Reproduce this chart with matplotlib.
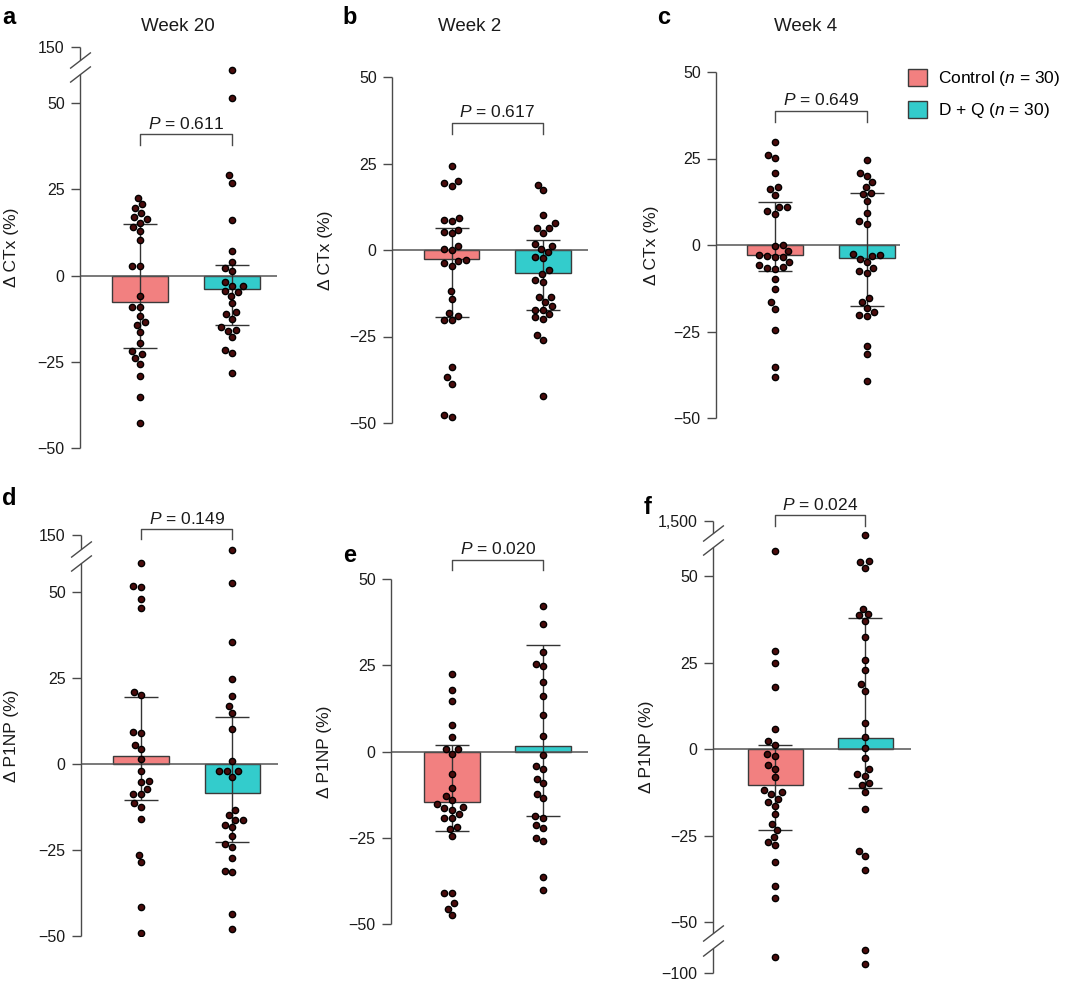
import numpy as np
import pandas as pd
import matplotlib
matplotlib.use('Agg')
import matplotlib.pyplot as plt
import seaborn as sns
from matplotlib.patches import Patch

plt.rcParams['font.family'] = ['Liberation Sans', 'DejaVu Sans']
plt.rcParams['mathtext.fontset'] = 'custom'
plt.rcParams['mathtext.it'] = 'Liberation Sans:italic'
plt.rcParams['mathtext.rm'] = 'Liberation Sans'

W, H = 1080, 984
groups = ['Control', 'D + Q']
bar_colors = ['#f28080', '#33cccc']
dot_face = '#4a0c0c'
line_c = '#4a4a4a'

# ---- data (values in %) ----
# a: CTx, week 20
ctrl_a = [22.6, 20.7, 19.6, 18.2, 16.9, 16.3, 15.3, 14.1, 12.8, 10.4, 2.7, 2.7,
          -6.0, -9.1, -9.1, -11.6, -13.6, -14.3, -16.4, -19.5, -21.8, -22.7,
          -23.9, -25.6, -29.2, -35.3, -42.7]
dq_a = [72.6, 51.4, 29.1, 27.0, 16.2, 7.0, 3.9, 2.2, 1.2, -2.0, -3.0, -3.0, -4.4,
        -4.8, -5.8, -8.0, -10.7, -11.1, -12.6, -14.9, -15.7, -16.0, -17.9, -21.5,
        -22.4, -28.2]
# b: CTx, week 2
ctrl_b = [24.4, 19.8, 19.3, 18.6, 9.3, 8.6, 8.4, 5.9, 5.3, 4.8, 1.1, 0.4, -0.1,
          -2.9, -3.2, -3.9, -4.5, -11.9, -14.1, -18.2, -19.2, -20.3, -20.3, -33.8,
          -36.8, -38.7, -47.6, -48.4]
dq_b = [18.8, 17.2, 10.0, 7.9, 6.5, 6.4, 4.9, 1.6, 1.3, 0.3, -0.7, -1.9, -2.4,
        -5.8, -7.0, -8.6, -9.2, -13.7, -13.7, -15.1, -16.3, -17.2, -17.2, -18.4,
        -19.5, -19.8, -24.5, -25.9, -42.3]
# c: CTx, week 4
ctrl_c = [29.8, 26.1, 25.1, 20.9, 16.9, 16.3, 14.5, 10.9, 10.9, 9.8, 9.0, 0.1,
          -0.4, -1.7, -3.0, -3.2, -3.5, -3.5, -5.0, -5.9, -6.4, -6.7, -6.8, -9.9,
          -12.8, -16.6, -18.5, -24.7, -35.2, -38.2]
dq_c = [24.7, 20.9, 20.0, 18.2, 16.7, 15.1, 14.6, 12.6, 9.2, 6.8, 6.0, -2.7, -2.9,
        -3.2, -4.0, -4.9, -6.6, -7.5, -8.0, -15.4, -16.5, -18.3, -19.5, -20.2,
        -20.6, -29.1, -31.4, -39.2]
# d: P1NP, week 20
ctrl_d = [58.5, 51.7, 51.4, 48.1, 45.4, 20.9, 20.0, 9.3, 8.9, 5.6, 4.3, 1.5, -2.0,
          -5.0, -5.2, -7.2, -8.7, -8.7, -11.2, -12.4, -15.9, -26.4, -28.5, -41.5,
          -49.1]
dq_d = [100.3, 52.6, 35.6, 24.6, 19.7, 16.9, 14.9, 10.3, 1.0, -2.1, -2.1, -2.1,
        -3.7, -13.5, -14.9, -16.2, -16.2, -17.6, -18.3, -21.0, -23.3, -24.2, -27.4,
        -31.0, -31.4, -43.5, -48.0]
# e: P1NP, week 2
ctrl_e = [22.5, 17.9, 14.5, 7.8, 4.2, 0.7, 0.7, -0.7, -6.6, -10.6, -12.8, -14.1,
          -15.3, -16.2, -16.3, -16.9, -18.1, -19.2, -19.3, -21.8, -22.5, -24.6,
          -41.0, -41.1, -44.0, -45.6, -47.5]
dq_e = [42.1, 37.0, 28.8, 25.4, 24.7, 20.1, 16.0, 10.6, 4.5, -0.9, -4.3, -5.1,
        -8.0, -9.2, -12.4, -13.6, -18.8, -19.3, -21.3, -22.1, -25.1, -25.9, -36.3,
        -40.0]
# f: P1NP, week 4
ctrl_f = [57.3, 28.3, 24.8, 17.9, 5.9, 2.2, 1.3, -1.5, -2.0, -4.7, -5.7, -8.1,
          -11.8, -12.5, -13.1, -14.3, -15.2, -16.4, -18.9, -21.6, -23.4, -25.5,
          -26.9, -27.7, -32.7, -39.5, -43.0, -81.7]
dq_f = [740.0, 54.3, 54.0, 52.4, 40.6, 39.1, 38.6, 37.1, 32.3, 25.8, 22.9, 18.7,
        16.8, 7.6, 3.6, 0.4, -2.6, -5.8, -7.3, -7.7, -9.7, -10.3, -12.3, -17.2,
        -29.5, -30.8, -34.9, -72.7, -89.0]

# bar heights and error-bar ends [Control, D + Q]
bar_a, lo_a, hi_a = [-7.7, -3.85], [-21.0, -14.2], [14.9, 3.2]
bar_b, lo_b, hi_b = [-2.7, -6.6], [-19.3, -17.2], [6.5, 2.9]
bar_c, lo_c, hi_c = [-2.8, -3.7], [-7.5, -17.5], [12.3, 15.0]
bar_d, lo_d, hi_d = [2.2, -8.4], [-10.6, -22.8], [19.5, 13.7]
bar_e, lo_e, hi_e = [-14.6, 1.65], [-22.9, -18.8], [1.9, 30.9]
bar_f, lo_f, hi_f = [-10.5, 3.3], [-23.5, -11.2], [1.1, 37.9]

p_values = ['0.611', '0.617', '0.649', '0.149', '0.020', '0.024']
titles = ['Week 20', 'Week 2', 'Week 4', '', '', '']
ctx_label = 'Δ CTx (%)'
p1np_label = 'Δ P1NP (%)'


def broken_scale(hi_b=None, hi_k=1.0, lo_b=None, lo_k=1.0):
    def fwd(y):
        y = np.asarray(y, dtype=float)
        d = y.copy()
        if hi_b is not None:
            d = np.where(y > hi_b, hi_b + (y - hi_b) * hi_k, d)
        if lo_b is not None:
            d = np.where(y < lo_b, lo_b + (y - lo_b) * lo_k, d)
        return d

    def inv(d):
        d = np.asarray(d, dtype=float)
        y = d.copy()
        if hi_b is not None:
            y = np.where(d > hi_b, hi_b + (d - hi_b) / hi_k, y)
        if lo_b is not None:
            y = np.where(d < lo_b, lo_b + (d - lo_b) / lo_k, y)
        return y
    return fwd, inv


HB = 58.5   # upper break start
LB = -53.2  # lower break start

panels = [
    dict(key='a', ctrl=ctrl_a, dq=dq_a, bar=bar_a, lo=lo_a, hi=hi_a, ylabel=ctx_label,
         box=(80, 47, 277, 448), xlim=(-0.652, 1.489), ylim=(-50, 150),
         ticks=[-50, -25, 0, 25, 50, 150], top_disp=66.3, bot_disp=None,
         bracket=(41.0, 37.9), lab_dx=-61, key_xy=(2, 24), title_xy=(178, 31)),
    dict(key='b', ctrl=ctrl_b, dq=dq_b, bar=bar_b, lo=lo_b, hi=hi_b, ylabel=ctx_label,
         box=(392, 77, 588, 423), xlim=(-0.65, 1.49), ylim=(-50, 50),
         ticks=[-50, -25, 0, 25, 50], top_disp=None, bot_disp=None,
         bracket=(36.7, 33.6), lab_dx=-59, key_xy=(342, 24), title_xy=(470, 31)),
    dict(key='c', ctrl=ctrl_c, dq=dq_c, bar=bar_c, lo=lo_c, hi=hi_c, ylabel=ctx_label,
         box=(716, 72, 900, 418), xlim=(-0.64, 1.36), ylim=(-50, 50),
         ticks=[-50, -25, 0, 25, 50], top_disp=None, bot_disp=None,
         bracket=(38.8, 35.6), lab_dx=-57, key_xy=(657, 24), title_xy=(806, 31)),
    dict(key='d', ctrl=ctrl_d, dq=dq_d, bar=bar_d, lo=lo_d, hi=hi_d, ylabel=p1np_label,
         box=(81, 535, 278, 936), xlim=(-0.66, 1.5), ylim=(-50, 150),
         ticks=[-50, -25, 0, 25, 50, 150], top_disp=66.6, bot_disp=None,
         bracket=(68.3, 65.4), lab_dx=-62, key_xy=(2, 505), title_xy=None),
    dict(key='e', ctrl=ctrl_e, dq=dq_e, bar=bar_e, lo=lo_e, hi=hi_e, ylabel=p1np_label,
         box=(391, 579, 588, 924), xlim=(-0.67, 1.49), ylim=(-50, 50),
         ticks=[-50, -25, 0, 25, 50], top_disp=None, bot_disp=None,
         bracket=(55.6, 52.5), lab_dx=-59, key_xy=(343, 562), title_xy=None),
    dict(key='f', ctrl=ctrl_f, dq=dq_f, bar=bar_f, lo=lo_f, hi=hi_f, ylabel=p1np_label,
         box=(713, 521, 911, 973), xlim=(-0.69, 1.51), ylim=(-100, 1500),
         ticks=[-100, -50, -25, 0, 25, 50, 1500], top_disp=65.9, bot_disp=-64.7,
         bracket=(67.6, 64.4), lab_dx=-59, key_xy=(644, 514), title_xy=None),
]


def tick_text(v):
    s = f'{abs(v):,}'
    return ('\u2212' + s) if v < 0 else s


fig = plt.figure(figsize=(W / 100, H / 100), dpi=100)

for i, p in enumerate(panels):
    l, t, r, b = p['box']
    ax = fig.add_axes([l / W, 1 - b / H, (r - l) / W, (b - t) / H])
    y0, y1 = p['ylim']
    hb = lb = None
    hk = lk = 1.0
    if p['top_disp'] is not None:
        hb = HB
        hk = (p['top_disp'] - HB) / (y1 - HB)
    if p['bot_disp'] is not None:
        lb = LB
        lk = (LB - p['bot_disp']) / (LB - y0)
    fwd, inv = broken_scale(hb, hk, lb, lk)
    ax.set_yscale('function', functions=(fwd, inv))
    ax.set_ylim(y0, y1)

    xs = np.arange(2)
    ax.bar(xs, p['bar'], width=0.61, color=bar_colors, edgecolor='#3a3a3a',
           linewidth=1.0, zorder=2)
    ax.axhline(0, color='#555555', lw=1.1, zorder=2.5)
    mean = np.array(p['bar'])
    yerr = [mean - np.array(p['lo']), np.array(p['hi']) - mean]
    ax.errorbar(xs, mean, yerr=yerr, fmt='none', ecolor='#333333', elinewidth=1.0,
                capsize=11.9, capthick=1.0, zorder=3)

    df = pd.DataFrame({'group': [groups[0]] * len(p['ctrl']) + [groups[1]] * len(p['dq']),
                       'value': p['ctrl'] + p['dq']})
    sns.swarmplot(data=df, x='group', y='value', order=groups, ax=ax, size=4.5,
                  color=dot_face, edgecolor='black', linewidth=1.0, zorder=5)

    ax.set_xlim(*p['xlim'])
    ax.set_xticks([])
    ax.set_xlabel('')
    for s in ['top', 'right', 'bottom', 'left']:
        ax.spines[s].set_visible(False)

    ax.set_yticks(p['ticks'], [tick_text(v) for v in p['ticks']])
    ax.tick_params(axis='y', length=6.5, width=1.0, color=line_c, labelsize=11.5,
                   pad=4.5, labelcolor='#1a1a1a')
    ax.set_ylabel(p['ylabel'], fontsize=12.5, color='#1a1a1a')
    ax.yaxis.set_label_coords(p['lab_dx'] / (r - l), 0.5)

    # left axis line, with break marks
    ytr = ax.get_yaxis_transform()
    slashes = []
    if lb is not None:
        slashes += [float(inv(-57.4)), float(inv(-53.2))]
    if hb is not None:
        slashes += [float(inv(58.4)), float(inv(62.4))]
    segs = [y0] + slashes + [y1]
    for k in range(0, len(segs), 2):
        ax.plot([0, 0], [segs[k], segs[k + 1]], transform=ytr, color=line_c, lw=1.0,
                clip_on=False, solid_capstyle='butt', zorder=6)
    if slashes:
        ax.plot([0] * len(slashes), slashes, transform=ytr, ls='none',
                marker=[(-1, -0.77), (1, 0.77)], ms=15, mew=1.0, color=line_c,
                clip_on=False, zorder=6)

    # significance bracket
    top, leg = p['bracket']
    top_d, leg_d = float(inv(top)), float(inv(leg))
    ax.plot([0, 0, 1, 1], [leg_d, top_d, top_d, leg_d], color=line_c, lw=1.0,
            clip_on=False, zorder=6)
    ax.annotate(f'$P$ = {p_values[i]}', xy=(0.5, top_d), xytext=(0, 4),
                textcoords='offset points', ha='center', va='baseline',
                fontsize=12.5, color='#1a1a1a', annotation_clip=False)

    kx, ky = p['key_xy']
    fig.text(kx / W, 1 - ky / H, p['key'], fontsize=17, fontweight='bold',
             ha='left', va='baseline')
    if p['title_xy'] is not None:
        tx, ty = p['title_xy']
        fig.text(tx / W, 1 - ty / H, titles[i], fontsize=13.5, ha='center',
                 va='baseline', color='#1a1a1a')

handles = [Patch(facecolor=bar_colors[0], edgecolor='#3a3a3a', lw=1.0,
                 label='Control ($n$ = 30)'),
           Patch(facecolor=bar_colors[1], edgecolor='#3a3a3a', lw=1.0,
                 label='D + Q ($n$ = 30)')]
fig.legend(handles=handles, loc='upper left', bbox_to_anchor=(908 / W, 1 - 69 / H),
           frameon=False, fontsize=12.5, handlelength=1.1, handleheight=1.1,
           handletextpad=0.6, labelspacing=0.75, borderaxespad=0, borderpad=0)

fig.savefig('out.png', dpi=100)
